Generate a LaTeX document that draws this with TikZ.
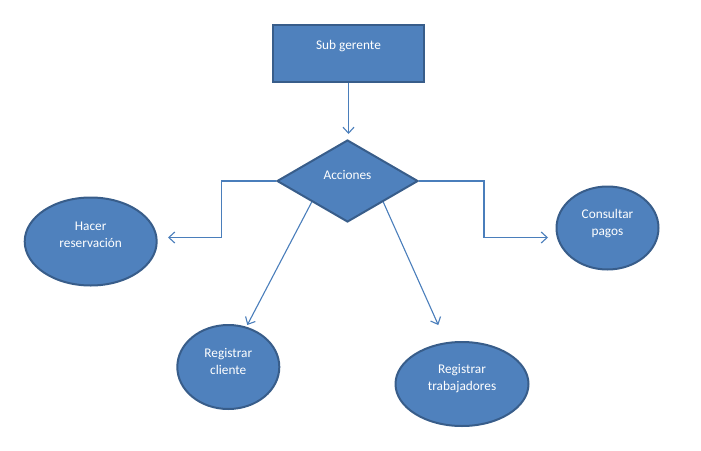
\documentclass[tikz,border=0pt]{standalone}
\usepackage{fontspec}
\setmainfont{Carlito}
\usetikzlibrary{shapes.geometric,arrows.meta}

\definecolor{shapefill}{HTML}{4F81BD}
\definecolor{shapeline}{HTML}{385D8A}
\definecolor{connline}{HTML}{4A7EBB}

\tikzset{
  shapebase/.style={draw=shapeline, fill=shapefill, line width=2pt, inner sep=0pt},
  boxshape/.style={shapebase, rectangle, minimum width=151pt, minimum height=57pt},
  decision/.style={shapebase, diamond, minimum width=141pt, minimum height=82pt},
  bubble/.style={shapebase, ellipse},
  caption/.style={text=white, align=center, font=\fontsize{13.3}{17}\selectfont, inner sep=0pt},
  conn/.style={draw=connline, line width=1.1pt, -{Straight Barb[length=6pt,width=11pt,line width=1.1pt]}},
}

\begin{document}
\begin{tikzpicture}[x=1pt,y=-1pt]
  \useasboundingbox (0,0) rectangle (701,450);

  % shapes
  \node[boxshape] (sub) at (348.5,53.5) {};
  \node[decision] (acc) at (347.5,181) {};
  \node[bubble, minimum width=132pt, minimum height=88pt] (hr) at (90.7,241.5) {};
  \node[bubble, minimum width=102pt, minimum height=83pt] (cp) at (607.5,228) {};
  \node[bubble, minimum width=102pt, minimum height=84pt] (rc) at (228.3,367) {};
  \node[bubble, minimum width=133pt, minimum height=84pt] (rt) at (462,384) {};

  % labels
  \node[caption] (subT) at (348.5,46) {Sub gerente};
  \node[caption] (accT) at (347.5,175) {Acciones};
  \node[caption] (hrT)  at (90.7,235) {Hacer\\reservación};
  \node[caption] (cpT)  at (607.5,223.3) {Consultar\\pagos};
  \node[caption] (rcT)  at (228.3,361.7) {Registrar\\cliente};
  \node[caption] (rtT)  at (462,378.7) {Registrar\\trabajadores};

  % free ends of the connectors
  \coordinate (accIn) at (348.5,134);
  \coordinate (hrIn) at (168,237.5);
  \coordinate (cpIn) at (548,237.5);
  \coordinate (rcIn) at (247.3,325);
  \coordinate (rtIn) at (438.3,325);

  % connectors
  \draw[conn] (sub.south) -- (accIn);
  \draw[conn] (acc.west) -- ++(-54.5,0) |- (hrIn);
  \draw[conn] (acc.east) -- ++(65,0) |- (cpIn);
  \draw[conn] (acc.south west) -- (rcIn);
  \draw[conn] (acc.south east) -- (rtIn);
\end{tikzpicture}
\end{document}
